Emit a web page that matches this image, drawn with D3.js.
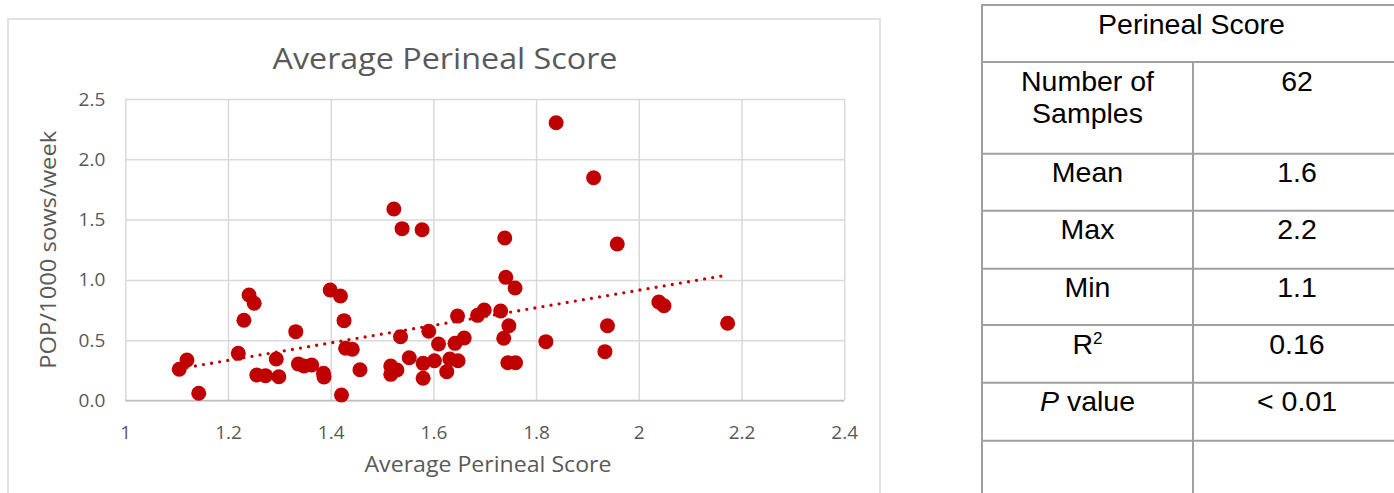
<!DOCTYPE html>
<html lang="en">
<head>
    <meta charset="UTF-8">
    <title>Average Perineal Score</title>
    <script src="https://cdn.jsdelivr.net/npm/d3@7/dist/d3.min.js"></script>
    <style type="text/css">
        body { margin: 0; background: #fff; }
        .chart-text { font-family: "Open Sans", sans-serif; fill: #595959; }
        .table-text { font-family: "Liberation Sans", Arial, sans-serif; fill: #000; font-size: 28.5px; }
    </style>
</head>
<body>
<div id="vis"></div>
<script type="text/javascript">

    // scatter values
    let perinealScore = [1.105, 1.12, 1.143, 1.241, 1.251, 1.231, 1.22, 1.332, 1.294, 1.256,
        1.273, 1.299, 1.337, 1.348, 1.363, 1.386, 1.387, 1.399, 1.419, 1.426,
        1.429, 1.442, 1.457, 1.421, 1.536, 1.517, 1.529, 1.517, 1.553, 1.58,
        1.58, 1.602, 1.591, 1.61, 1.626, 1.632, 1.648, 1.642, 1.66, 1.647,
        1.686, 1.699, 1.731, 1.741, 1.759, 1.747, 1.737, 1.745, 1.76, 1.819,
        1.523, 1.539, 1.578, 1.739, 1.839, 1.912, 1.958, 1.939, 1.934, 2.039,
        2.049, 2.173];
    let popPer1000 = [0.259, 0.336, 0.06, 0.875, 0.806, 0.665, 0.391, 0.571, 0.344, 0.211,
        0.206, 0.197, 0.303, 0.286, 0.294, 0.225, 0.195, 0.916, 0.866, 0.662,
        0.433, 0.425, 0.255, 0.046, 0.529, 0.286, 0.253, 0.217, 0.355, 0.308,
        0.184, 0.33, 0.574, 0.468, 0.239, 0.344, 0.33, 0.474, 0.518, 0.70,
        0.706, 0.75, 0.742, 1.021, 0.933, 0.62, 0.516, 0.313, 0.313, 0.488,
        1.588, 1.425, 1.416, 1.347, 2.303, 1.847, 1.298, 0.62, 0.405, 0.817,
        0.786, 0.64];

    let xTicks = [1, 1.2, 1.4, 1.6, 1.8, 2, 2.2, 2.4];
    let yTicks = [0, 0.5, 1, 1.5, 2, 2.5];

    // stats table on the right
    let tableTitle = "Perineal Score";
    let tableLabels = [["Number of", "Samples"], ["Mean"], ["Max"], ["Min"], ["R2"], ["P value"], [""]];
    let tableValues = ["62", "1.6", "2.2", "1.1", "0.16", "< 0.01", ""];

    let W = 1394, H = 493;
    let svg = d3.select("#vis").append("svg")
        .attr("width", W)
        .attr("height", H);

    // chart frame
    svg.append("rect")
        .attr("x", 8).attr("y", 19)
        .attr("width", 872).attr("height", 500)
        .attr("fill", "#fff")
        .attr("stroke", "#d9d9d9")
        .attr("stroke-width", 1.5);

    let plot = {left: 125.3, right: 844.2, top: 99, bottom: 400.5};

    let xScale = d3.scaleLinear().domain([1, 2.4]).range([plot.left, plot.right]);
    let yScale = d3.scaleLinear().domain([0, 2.5]).range([plot.bottom, plot.top]);

    // horizontal grid + y labels
    let yAxis = svg.append("g")
        .attr("class", "y axis")
        .attr("transform", "translate(" + plot.left + ",0)")
        .call(d3.axisLeft(yScale)
            .tickValues(yTicks)
            .tickSize(-(plot.right - plot.left))
            .tickPadding(20)
            .tickFormat(d3.format(".1f")));
    yAxis.select(".domain").remove();
    yAxis.selectAll(".tick line").attr("stroke", "#d9d9d9").attr("stroke-width", 1.5);
    yAxis.selectAll(".tick text")
        .attr("class", "chart-text")
        .style("font-size", "19px");

    // vertical grid + x labels
    let xAxis = svg.append("g")
        .attr("class", "x axis")
        .attr("transform", "translate(0," + plot.bottom + ")")
        .call(d3.axisBottom(xScale)
            .tickValues(xTicks)
            .tickSize(-(plot.bottom - plot.top))
            .tickPadding(25)
            .tickFormat(d3.format("~g")));
    xAxis.select(".domain").remove();
    xAxis.selectAll(".tick line").attr("stroke", "#d9d9d9").attr("stroke-width", 1.5);
    xAxis.selectAll(".tick text")
        .attr("class", "chart-text")
        .style("font-size", "19px");

    // bottom axis line
    svg.append("line")
        .attr("x1", plot.left).attr("x2", plot.right)
        .attr("y1", plot.bottom).attr("y2", plot.bottom)
        .attr("stroke", "#bfbfbf")
        .attr("stroke-width", 1.5);

    let points = perinealScore.map(function (x, i) { return {x: x, y: popPer1000[i]}; });

    svg.append("g")
        .selectAll("circle")
        .data(points)
        .enter().append("circle")
        .attr("cx", function (d) { return xScale(d.x); })
        .attr("cy", function (d) { return yScale(d.y); })
        .attr("r", 7.5)
        .attr("fill", "#c00000");

    // linear trendline (least squares on the points)
    let mx = d3.mean(perinealScore), my = d3.mean(popPer1000);
    let sxy = d3.sum(points, function (d) { return (d.x - mx) * (d.y - my); });
    let sxx = d3.sum(points, function (d) { return (d.x - mx) * (d.x - mx); });
    let slope = sxy / sxx, intercept = my - slope * mx;
    let xExt = d3.extent(perinealScore);
    let trend = xExt.map(function (x) { return {x: x, y: intercept + slope * x}; });

    svg.append("path")
        .datum(trend)
        .attr("fill", "none")
        .attr("stroke", "#c00000")
        .attr("stroke-width", 3.3)
        .attr("stroke-linecap", "round")
        .attr("stroke-dasharray", "0 8.2")
        .attr("d", d3.line()
            .x(function (d) { return xScale(d.x); })
            .y(function (d) { return yScale(d.y); }));

    // titles
    svg.append("text")
        .attr("class", "chart-text")
        .attr("x", 445).attr("y", 69)
        .attr("text-anchor", "middle")
        .attr("textLength", 345)
        .attr("lengthAdjust", "spacingAndGlyphs")
        .style("font-size", "30px")
        .text("Average Perineal Score");

    svg.append("text")
        .attr("class", "chart-text")
        .attr("x", 488).attr("y", 472)
        .attr("text-anchor", "middle")
        .attr("textLength", 247)
        .attr("lengthAdjust", "spacingAndGlyphs")
        .style("font-size", "21px")
        .text("Average Perineal Score");

    svg.append("text")
        .attr("class", "chart-text")
        .attr("transform", "translate(56," + (plot.top + plot.bottom) / 2 + ") rotate(-90)")
        .attr("text-anchor", "middle")
        .attr("textLength", 238)
        .attr("lengthAdjust", "spacingAndGlyphs")
        .style("font-size", "21px")
        .text("POP/1000 sows/week");

    // ---- table ----
    let tbl = {left: 982, mid: 1193, right: 1401, top: 5, headBottom: 62};
    let rowLines = [62, 153.7, 210.7, 268.7, 325, 382.7, 440.7, 520];
    let border = "#a0a0a0";
    let g = svg.append("g");

    g.append("rect")
        .attr("x", tbl.left).attr("y", tbl.top)
        .attr("width", tbl.right - tbl.left).attr("height", 520)
        .attr("fill", "none")
        .attr("stroke", border).attr("stroke-width", 2);
    g.append("line")
        .attr("x1", tbl.mid).attr("x2", tbl.mid)
        .attr("y1", tbl.headBottom).attr("y2", 520)
        .attr("stroke", border).attr("stroke-width", 2);
    g.selectAll(".rowline")
        .data(rowLines)
        .enter().append("line")
        .attr("x1", tbl.left).attr("x2", tbl.right)
        .attr("y1", function (d) { return d; }).attr("y2", function (d) { return d; })
        .attr("stroke", border).attr("stroke-width", 2);

    g.append("text")
        .attr("class", "table-text")
        .attr("x", (tbl.left + tbl.right) / 2).attr("y", tbl.top + 28.5)
        .attr("text-anchor", "middle")
        .text(tableTitle);

    let leftC = (tbl.left + tbl.mid) / 2, rightC = 1297;
    tableLabels.forEach(function (lines, i) {
        let top = rowLines[i];
        let t = g.append("text")
            .attr("class", "table-text")
            .attr("x", leftC).attr("y", top + 28.5)
            .attr("text-anchor", "middle");
        if (lines[0] === "R2") {
            t.append("tspan").text("R");
            t.append("tspan").attr("dy", -10).style("font-size", "17px").text("2");
        } else if (lines[0] === "P value") {
            t.append("tspan").style("font-style", "italic").text("P");
            t.append("tspan").text(" value");
        } else {
            lines.forEach(function (s, j) {
                t.append("tspan").attr("x", leftC).attr("dy", j === 0 ? 0 : 32.7).text(s);
            });
        }
        g.append("text")
            .attr("class", "table-text")
            .attr("x", rightC).attr("y", top + 28.5)
            .attr("text-anchor", "middle")
            .text(tableValues[i]);
    });
</script>
</body>
</html>
